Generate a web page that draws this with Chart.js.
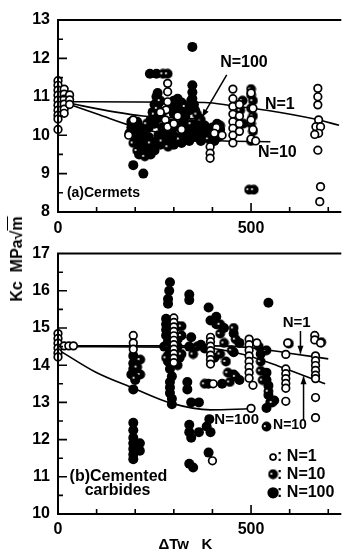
<!DOCTYPE html>
<html><head><meta charset="utf-8">
<script src="https://cdn.jsdelivr.net/npm/chart.js@4.4.1/dist/chart.umd.min.js"></script>
<style>
html,body{margin:0;padding:0;background:#fff;}
body{width:344px;height:554px;position:relative;overflow:hidden;}
canvas{position:absolute;left:0;}
#c1{top:0;}
#c2{top:236px;}
#ytitle{position:absolute;left:17px;top:259px;transform:translate(-50%,-50%) rotate(-90deg);font:bold 16px 'Liberation Sans',Arial,sans-serif;white-space:nowrap;color:#000;}
</style></head>
<body>
<canvas id="c1" width="344" height="240"></canvas>
<canvas id="c2" width="344" height="318"></canvas>
<div id="ytitle">Kc&nbsp;&nbsp;MPa√<span style="text-decoration:overline">m</span></div>
<script>
// ---------- data ----------
const seriesLabels = ['N=1', 'N=10', 'N=100'];
const xTickLabels = [0, 500];
const topYTicks = [8, 9, 10, 11, 12, 13];
const botYTicks = [10, 11, 12, 13, 14, 15, 16, 17];

// (a) Cermets
const topN1 = [[0,11.42],[0,11.3],[0,11.17],[0,11.04],[0,10.91],[0,10.78],[0,10.65],[0,10.52],[0,10.42],[0,10.15],
 [16,11.2],[16,11.07],[16,10.94],[16,10.81],[16,10.68],[16,10.57],[30,11.05],[30,10.92],[30,10.8],
 [183,10.0],[195,10.4],[284,11.35],[284,11.13],[284,10.87],[280,10.66],[278,10.4],[284,10.22],[265,10.6],[300,10.3],[310,10.5],[320,10.15],
 [394,9.7],[394,9.53],[394,9.4],[410,10.2],[425,10.0],[405,10.05],
 [453,11.2],[453,10.95],[453,10.75],[453,10.55],[453,10.35],[453,10.18],[453,10.0],[453,9.8],[470,10.8],[470,10.5],[470,10.3],[470,10.1],
 [500,11.1],[505,10.7],[500,10.4],[505,10.15],[500,9.9],[512,9.85],
 [673,11.22],[673,11.0],[673,10.79],[675,10.4],[668,10.22],[680,10.22],[675,10.05],[665,10.02],[673,9.61],[680,8.66],[678,8.27]];
const topN10 = [[272,11.6],[284,11.6],[265,10.9],[258,10.7],[250,10.55],[270,9.85],[285,9.7],[230,10.3],[195,9.8],[205,9.6],[225,9.45],[240,9.8],
 [300,10.2],[315,10.4],[330,10.75],[360,10.55],[370,10.4],[390,9.9],[420,10.0],
 [500,11.2],[500,11.05],[505,10.9],[500,10.7],[505,10.5],[500,10.3],[505,10.1],[500,9.85],[495,8.58],[507,8.58],
 [478,10.9],[472,10.65],[480,10.3],[420,10.25],[315,9.9],[345,10.3]];
const topN100 = [[348,12.3],[238,11.6],[255,11.6],[195,9.22],[221,9.0],[348,11.3],[348,11.12],[348,10.95],[352,10.8],[340,10.65],[330,10.5],
 [320,10.85],[310,10.7],[300,10.9],[360,10.3],[365,10.1],[355,9.95],[340,9.85],[320,9.8],[300,9.75],[280,9.9],[260,10.0],[250,10.3],[245,10.6],
 [250,10.8],[255,11.0],[262,10.45],[270,10.2],[230,9.7],[220,9.55],[210,9.75],[215,10.0],[200,9.9],[190,10.2],[205,10.35],[225,10.15],[235,9.95],
 [240,9.5],[400,10.2],[410,10.1],[415,9.95],[405,9.85],[395,10.05],[290,10.3],[295,10.05],[375,10.0],[380,10.25],[335,10.15],[325,10.0],
 [185,10.05],[200,10.1],[210,9.5],[230,9.85],[245,9.7],[255,9.85],[265,9.75],[275,10.1],[285,10.0],[290,9.8],[305,9.95],[315,10.2],
 [325,10.35],[335,9.9],[345,10.05],[355,10.2],[365,10.45],[310,10.95],[320,10.6],[300,10.55],[290,10.75],[270,10.6],[262,10.85],[258,11.1],
 [240,10.4],[220,9.8],[212,10.2],[370,9.85],[385,10.1],[400,9.95],[412,10.3],[420,10.15],[355,10.65],[345,10.9],[235,10.2],[250,9.6],[190,10.35]];
const topFit1 = [[20,10.87],[380,10.85],[450,10.77],[540,10.65],[665,10.42],[728,10.26]];
const topFit10 = [[20,10.84],[107,10.53],[191,10.24],[300,9.99],[400,9.86],[550,9.83]];
const topFit100 = [[20,10.85],[150,10.6],[220,10.5],[380,10.42]];

// (b) Cemented carbides
const botN1 = [[0,14.85],[0,14.72],[0,14.59],[0,14.46],[0,14.33],[0,14.22],[16,14.52],[28,14.52],[40,14.52],
 [195,14.8],[195,14.6],[195,14.43],
 [300,15.27],[300,15.15],[300,15.03],[300,14.91],[300,14.79],[300,14.67],[300,14.55],[300,14.43],[300,14.31],[300,14.19],[300,14.07],
 [395,14.75],[395,14.63],[395,14.51],[395,14.39],[395,14.27],[395,14.15],[395,14.03],[402,13.5],[400,11.43],
 [495,14.7],[495,14.55],[495,14.4],[495,14.25],[495,14.1],[495,13.95],[495,13.8],[495,13.65],[505,13.46],[500,12.84],[515,14.6],
 [595,14.6],[590,14.29],[590,13.9],[590,13.77],[590,13.64],[590,13.51],[590,13.38],[590,13.03],
 [665,14.8],[665,14.68],[680,14.6],[667,14.25],[667,14.12],[667,13.99],[667,13.86],[667,13.73],[667,13.64],[667,13.13],[667,12.59]];
const botN10 = [[213,14.15],[205,13.95],[213,13.75],[200,13.65],[540,14.4],[540,12.35],[598,14.58],[682,14.62],[320,15.05],[320,14.8],[320,14.3],
 [285,14.5],[280,14.2],[310,14.0],[420,15.1],[420,14.85],[430,14.6],[420,14.3],[435,14.1],[455,15.0],[460,14.7],[450,14.4],[460,13.7],[445,13.55],
 [380,13.5],[520,14.5],[525,14.1],[525,13.85],[530,13.6],[545,13.3],[555,13.0],[360,14.5],[350,14.3],[440,13.8]];
const botN100 = [[195,14.25],[195,14.05],[195,13.9],[190,13.75],[200,13.6],[195,13.35],[195,12.45],[195,12.25],[195,12.05],[195,11.9],[195,11.75],
 [195,11.6],[195,11.47],[212,11.9],[212,11.7],[290,16.23],[288,16.0],[285,15.78],[285,15.65],[280,15.25],[280,15.1],[280,14.95],[280,14.8],
 [285,14.65],[290,14.4],[285,14.25],[290,14.05],[290,13.9],[290,13.55],[290,13.4],[290,13.25],[295,13.1],[295,12.95],[310,15.05],[310,14.7],
 [310,14.5],[315,14.2],[340,15.9],[340,15.75],[345,14.75],[340,14.5],[335,13.55],[335,13.35],[345,13.0],[365,13.0],[340,12.4],[340,12.2],
 [345,12.05],[365,12.2],[340,11.35],[350,11.25],[390,15.55],[395,15.2],[390,13.5],[392,12.55],[385,12.35],[395,12.2],[390,11.65],[410,15.3],
 [410,15.1],[405,14.2],[430,15.0],[455,14.85],[470,14.6],[455,14.35],[455,13.75],[470,13.6],[545,15.68],[540,13.8],[540,13.6],[545,13.45],
 [545,13.2],[550,13.0],[540,12.85],[560,13.05],[525,14.3],[425,13.5],[370,14.55],[380,14.45],[285,14.1],[295,13.7],[275,14.5]];
const botFit1 = [[20,14.52],[400,14.52],[490,14.48],[594,14.33],[700,14.17]];
const botFit10 = [[20,14.5],[330,14.48],[400,14.45],[483,14.28],[570,13.98],[692,13.5]];
const botFit100 = [[0,14.42],[98,13.81],[196,13.38],[293,12.98],[395,12.8],[495,12.83]];

// ---------- helpers ----------
const FONT = "'Liberation Sans', Arial, sans-serif";
const pts = a => a.map(p => ({x: p[0], y: p[1]}));
function dotImg() {
  const c = document.createElement('canvas'); c.width = 11; c.height = 11;
  const g = c.getContext('2d');
  g.fillStyle = '#000'; g.beginPath(); g.arc(5.5, 5.5, 4.9, 0, Math.PI * 2); g.fill();
  g.fillStyle = '#fff'; g.beginPath(); g.arc(3.8, 5.0, 1.1, 0, Math.PI * 2); g.fill();
  return c;
}
const n10Img = dotImg();

const framePlugin = {
  id: 'frame',
  afterDraw(chart) {
    const {ctx, chartArea: a, scales: {x, y}} = chart;
    ctx.save();
    ctx.strokeStyle = '#000'; ctx.lineWidth = 2; ctx.lineCap = 'square';
    ctx.beginPath();
    ctx.moveTo(a.right + 2, a.top); ctx.lineTo(a.left, a.top); ctx.lineTo(a.left, a.bottom); ctx.lineTo(a.right + 2, a.bottom);
    ctx.stroke();
    ctx.lineWidth = 1.6; ctx.lineCap = 'butt';
    ctx.beginPath();
    for (let v = y.min + 0.5; v < y.max; v += 0.5) {
      const py = y.getPixelForValue(v);
      const len = Math.abs(v - Math.round(v)) < 1e-6 ? 9 : 5;
      ctx.moveTo(a.left, py); ctx.lineTo(a.left + len, py);
    }
    for (let v = 100; v <= x.max; v += 100) {
      const px = x.getPixelForValue(v);
      const len = v % 500 === 0 ? 9 : 5;
      ctx.moveTo(px, a.bottom); ctx.lineTo(px, a.bottom - len);
    }
    ctx.stroke();
    ctx.restore();
  }
};

const annotatePlugin = {
  id: 'annotate',
  afterDraw(chart, args, o) {
    const {ctx, scales: {x, y}} = chart;
    ctx.save();
    ctx.fillStyle = '#000'; ctx.strokeStyle = '#000';
    (o.texts || []).forEach(t => {
      ctx.font = `${t.weight || 'bold'} ${t.size}px ${FONT}`;
      ctx.textAlign = t.align || 'left'; ctx.textBaseline = 'middle';
      ctx.fillText(t.text, x.getPixelForValue(t.x), y.getPixelForValue(t.y));
    });
    (o.arrows || []).forEach(ar => {
      const x1 = x.getPixelForValue(ar[0]), y1 = y.getPixelForValue(ar[1]);
      const x2 = x.getPixelForValue(ar[2]), y2 = y.getPixelForValue(ar[3]);
      ctx.lineWidth = 1.5;
      ctx.beginPath(); ctx.moveTo(x1, y1); ctx.lineTo(x2, y2); ctx.stroke();
      const ang = Math.atan2(y2 - y1, x2 - x1), L = 8, W = 3;
      ctx.beginPath();
      ctx.moveTo(x2, y2);
      ctx.lineTo(x2 - L * Math.cos(ang) + W * Math.sin(ang), y2 - L * Math.sin(ang) - W * Math.cos(ang));
      ctx.lineTo(x2 - L * Math.cos(ang) - W * Math.sin(ang), y2 - L * Math.sin(ang) + W * Math.cos(ang));
      ctx.closePath(); ctx.fill();
    });
    if (o.legend) {
      const lg = o.legend;
      const px = x.getPixelForValue(lg.x);
      lg.rows.forEach((r, i) => {
        const ds = chart.data.datasets[r];
        const py = y.getPixelForValue(lg.ys[i]);
        if (ds.pointStyle instanceof HTMLCanvasElement) {
          ctx.drawImage(ds.pointStyle, px - 5.5, py - 5.5);
        } else {
          ctx.beginPath(); ctx.arc(px, py, ds.legendRadius, 0, Math.PI * 2);
          ctx.fillStyle = ds.backgroundColor; ctx.fill();
          ctx.lineWidth = ds.borderWidth; ctx.strokeStyle = ds.borderColor; ctx.stroke();
        }
        ctx.fillStyle = '#000';
        ctx.font = `bold 16px ${FONT}`; ctx.textAlign = 'left'; ctx.textBaseline = 'middle';
        ctx.fillText(': ' + ds.label, px + 4, py);
      });
    }
    ctx.restore();
  }
};

function scatterSet(label, data, kind) {
  const base = {type: 'scatter', label, data: pts(data), clip: false};
  if (kind === 0) return Object.assign(base, {pointStyle: 'circle', pointRadius: 3.8, borderWidth: 1.7, borderColor: '#000', backgroundColor: '#fff', legendRadius: 3, order: 0});
  if (kind === 1) return Object.assign(base, {pointStyle: n10Img, pointRadius: 5, borderWidth: 0, borderColor: '#000', backgroundColor: '#000', order: 2});
  return Object.assign(base, {pointStyle: 'circle', pointRadius: 5, borderWidth: 0, borderColor: '#000', backgroundColor: '#000', legendRadius: 4.8, order: 3});
}
function fitSet(data) {
  return {type: 'line', label: 'fit', data: pts(data), showLine: true, pointRadius: 0, borderColor: '#000', borderWidth: 1.6,
    cubicInterpolationMode: 'monotone', fill: false, order: 1, clip: false};
}

function makeChart(id, cfg) {
  return new Chart(document.getElementById(id), {
    type: 'scatter',
    data: {datasets: [
      scatterSet(seriesLabels[0], cfg.n1, 0),
      scatterSet(seriesLabels[1], cfg.n10, 1),
      scatterSet(seriesLabels[2], cfg.n100, 2),
      fitSet(cfg.f1), fitSet(cfg.f10), fitSet(cfg.f100)
    ]},
    options: {
      responsive: false, animation: false, devicePixelRatio: 1,
      layout: {padding: {top: cfg.padTop, right: 0, left: 0, bottom: 0}},
      plugins: {legend: {display: false}, tooltip: {enabled: false}, annotate: cfg.annot},
      scales: {
        x: {type: 'linear', min: 0, max: 726, afterFit: s => { s.height = cfg.xH; },
          afterBuildTicks: s => { s.ticks = xTickLabels.map(v => ({value: v})); },
          grid: {display: false, drawTicks: false}, border: {display: false},
          ticks: {padding: cfg.xPad, color: '#000', maxRotation: 0, font: {family: FONT, size: 16, weight: 'bold'}}},
        y: {type: 'linear', min: cfg.ymin, max: cfg.ymax, afterFit: s => { s.width = 58; },
          afterBuildTicks: s => { s.ticks = cfg.yTicks.map(v => ({value: v})); },
          grid: {display: false, drawTicks: false}, border: {display: false},
          ticks: {padding: 8, color: '#000', font: {family: FONT, size: 16, weight: 'bold'}}}
      }
    },
    plugins: [framePlugin, annotatePlugin]
  });
}

makeChart('c1', {
  n1: topN1, n10: topN10, n100: topN100, f1: topFit1, f10: topFit10, f100: topFit100,
  ymin: 8, ymax: 13, yTicks: topYTicks, padTop: 20, xH: 28, xPad: 7,
  annot: {
    texts: [
      {text: 'N=100', x: 420, y: 11.9, size: 16},
      {text: 'N=1', x: 536, y: 10.79, size: 16},
      {text: 'N=10', x: 518, y: 9.54, size: 16},
      {text: '(a)Cermets', x: 23, y: 8.5, size: 14}
    ],
    arrows: [[437, 11.57, 373, 10.47]]
  }
});

makeChart('c2', {
  n1: botN1, n10: botN10, n100: botN100, f1: botFit1, f10: botFit10, f100: botFit100,
  ymin: 10, ymax: 17, yTicks: botYTicks, padTop: 9, xH: 40, xPad: 6,
  annot: {
    texts: [
      {text: 'N=1', x: 582, y: 15.13, size: 15},
      {text: 'N=100', x: 405, y: 12.52, size: 15},
      {text: 'N=10', x: 557, y: 12.39, size: 14},
      {text: '(b)Cemented', x: 30, y: 11.0, size: 16},
      {text: 'carbides', x: 69, y: 10.62, size: 16},
      {text: 'ΔTw   K', x: 330, y: 9.16, size: 15, align: 'center'}
    ],
    arrows: [[628, 14.92, 628, 14.31], [636, 12.53, 636, 13.7]],
    legend: {x: 557, ys: [11.53, 11.07, 10.57], rows: [0, 1, 2]}
  }
});
</script>
</body></html>
